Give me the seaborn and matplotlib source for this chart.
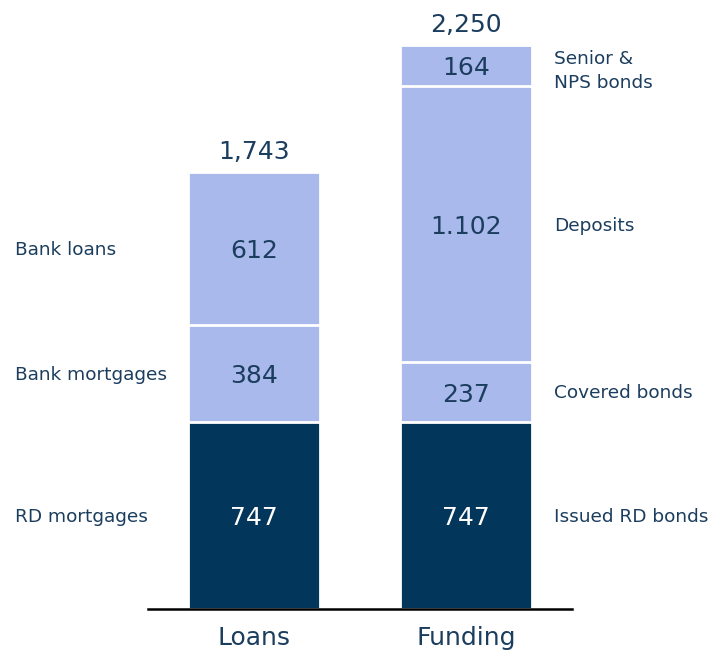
import matplotlib
matplotlib.use("Agg")
import matplotlib.pyplot as plt
import matplotlib.transforms as mtransforms
import numpy as np
import pandas as pd
import seaborn as sns

categories = ["Loans", "Funding"]
loans_values = [747, 384, 612]
funding_values = [747, 237, 1102, 164]
loans_value_labels = ["747", "384", "612"]
funding_value_labels = ["747", "237", "1.102", "164"]
loans_segment_names = ["RD mortgages", "Bank mortgages", "Bank loans"]
funding_segment_names = ["Issued RD bonds", "Covered bonds", "Deposits", "Senior &\nNPS bonds"]
totals_labels = ["1,743", "2,250"]

DARK = "#02365A"
LIGHT = "#A9B9EC"
TEXT = "#1B3D5E"

sns.set_theme(style="white")
plt.rcParams["font.family"] = ["DejaVu Sans"]

fig = plt.figure(figsize=(7.12, 6.51), dpi=100)
ax = fig.add_axes([148 / 712, 42 / 651, 424 / 712, 609 / 651])

series = {"Loans": loans_values, "Funding": funding_values}
labels = {"Loans": loans_value_labels, "Funding": funding_value_labels}
nmax = max(len(v) for v in series.values())

# Draw cumulative layers from top to bottom
for k in range(nmax - 1, -1, -1):
    rows = []
    for c in categories:
        vals = series[c]
        if k < len(vals):
            rows.append({"cat": c, "top": float(np.sum(vals[: k + 1]))})
    df = pd.DataFrame(rows)
    sns.barplot(data=df, x="cat", y="top", order=categories, color=DARK if k == 0 else LIGHT,
                width=0.62, edgecolor="white", linewidth=2, saturation=1, errorbar=None, ax=ax)

# value labels
for i, c in enumerate(categories):
    vals = series[c]
    cum = np.cumsum([0] + list(vals))
    for k, v in enumerate(vals):
        ax.annotate(labels[c][k], (i, (cum[k] + cum[k + 1]) / 2), xytext=(0, -2),
                    textcoords="offset points", ha="center", va="center",
                    fontsize=18, color="white" if k == 0 else TEXT)
    ax.annotate(totals_labels[i], (i, cum[-1]), xytext=(0, 14), textcoords="offset points",
                ha="center", va="center", fontsize=18, color=TEXT)

trans = mtransforms.blended_transform_factory(fig.transFigure, ax.transData)
cum_l = np.cumsum([0] + loans_values)
for k, name in enumerate(loans_segment_names):
    ax.text(15 / 712, (cum_l[k] + cum_l[k + 1]) / 2 - 6, name, transform=trans, ha="left",
            va="center", fontsize=13.3, color=TEXT)
cum_f = np.cumsum([0] + funding_values)
for k, name in enumerate(funding_segment_names):
    y = (cum_f[k] + cum_f[k + 1]) / 2 - 6
    if k == 3:
        y -= 18
    ax.text(554 / 712, y, name, transform=trans, ha="left", va="center",
            fontsize=13.3, color=TEXT, linespacing=1.4)

ax.set_xlim(-0.5, 1.5)
ax.set_ylim(0, 609 / 0.2508)
ax.set_xlabel("")
ax.set_ylabel("")
ax.set_yticks([])
for s in ["top", "left", "right"]:
    ax.spines[s].set_visible(False)
ax.spines["bottom"].set_color("black")
ax.spines["bottom"].set_linewidth(1.8)
ax.spines["bottom"].set_zorder(5)
ax.tick_params(axis="x", length=0, pad=12, labelsize=18, labelcolor=TEXT)
ax.patch.set_alpha(0)

fig.savefig("out.png", dpi=100)
